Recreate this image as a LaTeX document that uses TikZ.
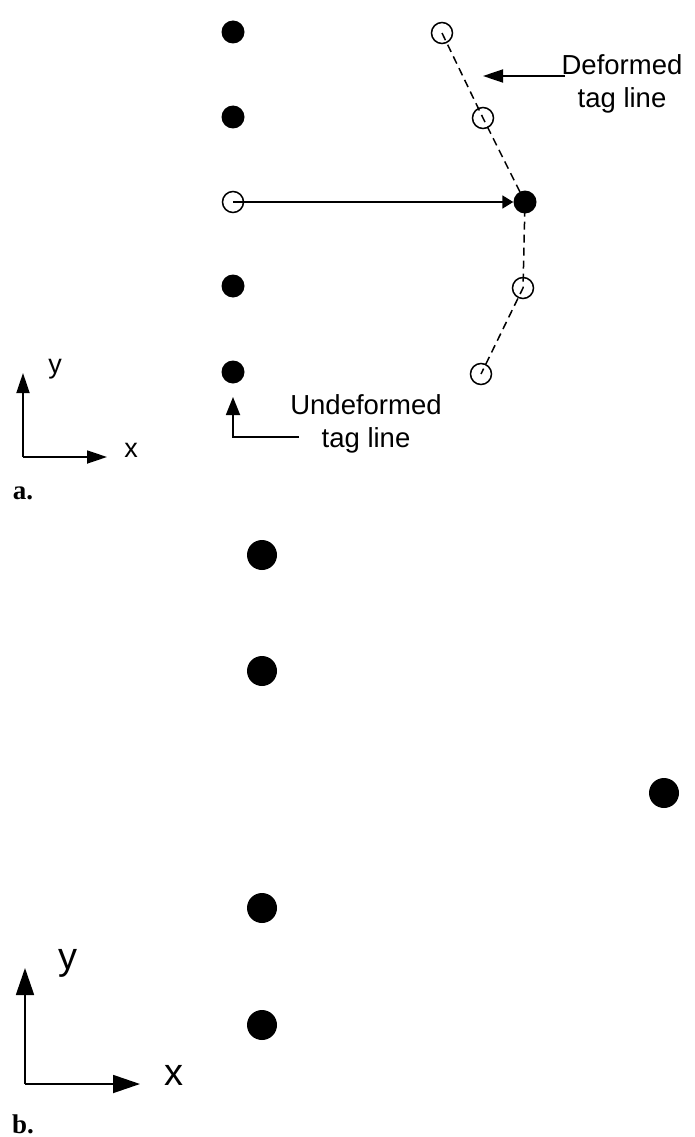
\documentclass[tikz,border=0pt]{standalone}
\usepackage{fontspec}
\setmainfont{Liberation Sans}
\newfontfamily\labserif{Liberation Serif}
\usetikzlibrary{arrows.meta}
\begin{document}
\begin{tikzpicture}[x=1pt,y=-1pt,
  dot/.style={circle,fill=black,inner sep=0pt,minimum size=23pt},
  bigdot/.style={circle,fill=black,inner sep=0pt,minimum size=30pt},
  odot/.style={circle,draw=black,line width=1.5pt,fill=white,inner sep=0pt,minimum size=21pt},
  tagdash/.style={line width=1.5pt,dash pattern=on 8pt off 5pt},
  lbl/.style={font=\fontsize{27.5}{33}\selectfont,align=center,inner sep=0pt},
  axlbl/.style={font=\fontsize{27}{30}\selectfont,inner sep=0pt},
  axlblb/.style={font=\fontsize{38}{44}\selectfont,inner sep=0pt},
  panel/.style={font=\labserif\bfseries\fontsize{27}{30}\selectfont,inner sep=0pt},
  ln/.style={line width=1.8pt},
  tipA/.style={-{Triangle[length=20pt,width=13pt]}},
  tipB/.style={-{Triangle[length=27pt,width=18pt]}}
]
\useasboundingbox (0,0) rectangle (695,1137);

% ---------- panel a ----------
\coordinate (p1) at (442,33);
\coordinate (p2) at (483,118);
\coordinate (p3) at (525,202);
\coordinate (p4) at (523,288);
\coordinate (p5) at (481,374);
\draw[tagdash] (p1) -- (p2) -- (p3) -- (p4) -- (p5);

\node[dot] (a1) at (233,32) {};
\node[dot] (a2) at (233,117) {};
\node[odot] (a3) at (233,202) {};
\node[dot] (a4) at (233,286) {};
\node[dot] (a5) at (233,372) {};

\node[odot,fill=none] (b1) at (p1) {};
\node[odot,fill=none] (b2) at (p2) {};
\node[dot] (b3) at (p3) {};
\node[odot,fill=none] (b4) at (p4) {};
\node[odot,fill=none] (b5) at (p5) {};

\draw[ln,-{Triangle[length=11pt,width=13pt]}] (a3.center) -- (b3.west);

\node[lbl] (deft) at (622,84) {Deformed\\tag line};
\coordinate (defs) at (565,76);
\coordinate (deftip) at (483,76);
\draw[ln,tipA] (defs) -- (deftip);

\node[lbl] (undt) at (366,424) {Undeformed\\tag line};
\coordinate (unds) at (299,437);
\coordinate (undc) at (233,437);
\coordinate (undtip) at (233,397);
\draw[ln,-{Triangle[length=18pt,width=14pt]}] (unds) -- (undc) -- (undtip);

% axes a
\coordinate (oa) at (23,457);
\coordinate (ya) at (23,373);
\coordinate (xa) at (107,457);
\draw[ln,tipA] (oa) -- (ya);
\draw[ln,tipA] (oa) -- (xa);
\node[axlbl] (yla) at (55,369) {y};
\node[axlbl] (xla) at (131,450) {x};
\node[panel] (pa) at (23,493) {a.};

% ---------- panel b ----------
\node[bigdot] (c1) at (262,555) {};
\node[bigdot] (c2) at (262,671) {};
\node[bigdot] (c3) at (664,793) {};
\node[bigdot] (c4) at (262,908) {};
\node[bigdot] (c5) at (262,1025) {};

\coordinate (ob) at (25,1084);
\coordinate (yb) at (25,968);
\coordinate (xb) at (140,1084);
\draw[ln,tipB] (ob) -- (yb);
\draw[ln,tipB] (ob) -- (xb);
\node[axlblb] (ylb) at (68,963) {y};
\node[axlblb] (xlb) at (174,1075) {x};
\node[panel] (pb) at (23,1124) {b.};
\end{tikzpicture}
\end{document}
